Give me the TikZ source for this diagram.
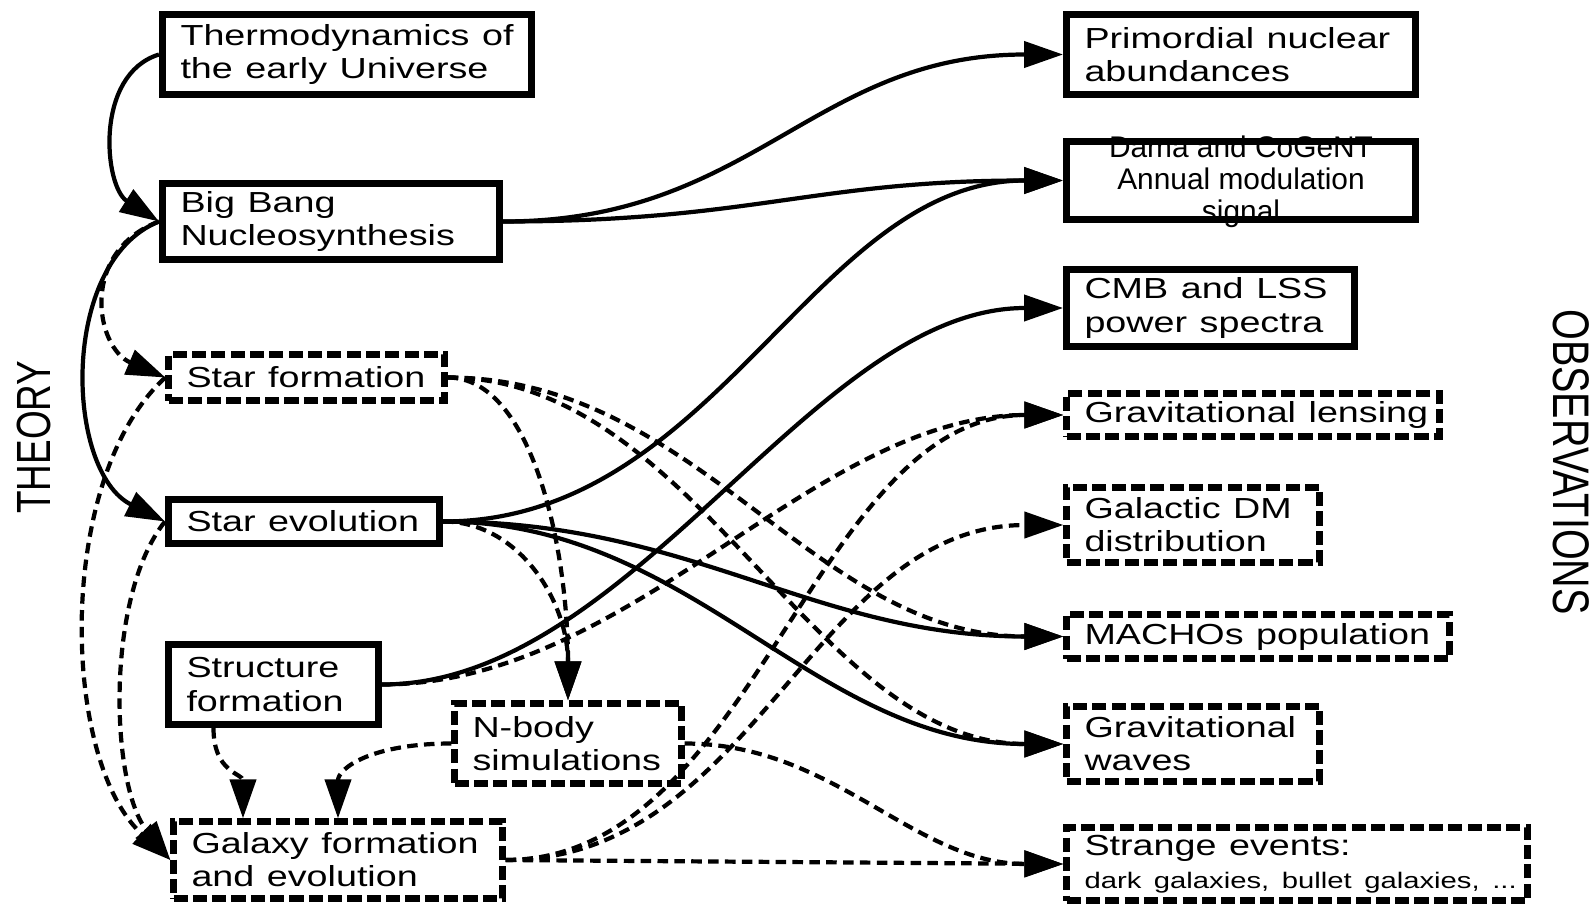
\documentclass[tikz,border=0pt]{standalone}
\usepackage{fontspec}
\setmainfont{Liberation Sans}
\usepackage{graphicx}
\usetikzlibrary{arrows.meta}

\newcommand{\stretchtxt}[1]{\scalebox{1.3}[1]{#1}}

\begin{document}
\begin{tikzpicture}
  \tikzset{
  solid_box/.style={draw, line width=4pt, inner xsep=0.36cm, inner ysep=0.1cm,
    align=left, font=\fontsize{16.5}{18.8}\selectfont},
  dashed_box/.style={solid_box, line width=3.6pt, dash pattern=on 8pt off 3pt},
  solid_link/.style={line width=2.4pt, -{Triangle[length=0.78cm,width=0.52cm]}},
  dashed_link/.style={solid_link, dash pattern=on 6pt off 3.6pt},
}

  % frame
  \useasboundingbox (0,0) rectangle (31.88,-18.1);

  % theory side
  \node[solid_box, text width=6.66cm, minimum height=1.6cm] (thermo) at (6.94,-1.09)
    {\stretchtxt{Thermodynamics of}\\\stretchtxt{the early Universe}};
  \node[solid_box, text width=6.02cm, minimum height=1.52cm] (bbn) at (6.62,-4.43)
    {\stretchtxt{Big Bang}\\\stretchtxt{Nucleosynthesis}};
  \node[dashed_box, text width=4.8cm, minimum height=0.92cm] (star_form) at (6.13,-7.55)
    {\stretchtxt{Star formation}};
  \node[solid_box, text width=4.7cm, minimum height=0.88cm] (star_evo) at (6.08,-10.43)
    {\stretchtxt{Star evolution}};
  \node[solid_box, text width=3.48cm, minimum height=1.6cm] (structure) at (5.47,-13.69)
    {\stretchtxt{Structure}\\\stretchtxt{formation}};
  \node[dashed_box, text width=3.82cm, minimum height=1.6cm] (nbody) at (11.36,-14.87)
    {\stretchtxt{N-body}\\\stretchtxt{simulations}};
  \node[dashed_box, text width=5.86cm, minimum height=1.54cm] (galaxy) at (6.76,-17.2)
    {\stretchtxt{Galaxy formation}\\\stretchtxt{and evolution}};

  % observation side
  \node[solid_box, text width=6.26cm, minimum height=1.6cm] (primordial) at (24.82,-1.09)
    {\stretchtxt{Primordial nuclear}\\\stretchtxt{abundances}};
  \node[font=\fontsize{17}{18.3}\selectfont, align=center] (dama_text) at (24.82,-3.63)
    {Dama and CoGeNT\\Annual modulation\\signal};
  \node[solid_box, minimum width=6.98cm, minimum height=1.56cm] (dama) at (24.82,-3.61) {};
  \node[solid_box, text width=5.04cm, minimum height=1.54cm] (cmb) at (24.21,-6.16)
    {\stretchtxt{CMB and LSS}\\\stretchtxt{power spectra}};
  \node[dashed_box, text width=6.74cm, minimum height=0.86cm] (lensing) at (25.06,-8.3)
    {\stretchtxt{Gravitational lensing}};
  \node[dashed_box, text width=4.34cm, minimum height=1.5cm] (galactic_dm) at (23.86,-10.5)
    {\stretchtxt{Galactic DM}\\\stretchtxt{distribution}};
  \node[dashed_box, text width=6.94cm, minimum height=0.88cm] (machos) at (25.16,-12.73)
    {\stretchtxt{MACHOs population}};
  \node[dashed_box, text width=4.34cm, minimum height=1.5cm] (grav_waves) at (23.86,-14.88)
    {\stretchtxt{Gravitational}\\\stretchtxt{waves}};
  \node[dashed_box, text width=8.5cm, minimum height=1.46cm] (strange) at (25.94,-17.28)
    {\stretchtxt{Strange events:}\\\stretchtxt{\fontsize{12.8}{14}\selectfont dark galaxies, bullet galaxies, ...}};

  % side titles
  \node[font=\fontsize{21}{24}\selectfont] (theory) at (0.68,-8.74)
    {\scalebox{1.3}[1]{\rotatebox{90}{THEORY}}};
  \node[font=\fontsize{22.5}{26}\selectfont] (observations) at (31.42,-9.24)
    {\scalebox{1.3}[1]{\rotatebox{-90}{OBSERVATIONS}}};

  % links on the left
  \draw[solid_link] (thermo.west) .. controls +(-1.3,-0.4) and +(-1.1,0.7) .. (bbn.west);
  \draw[dashed_link] (bbn.west) .. controls +(-1.6,-0.6) and +(-1.4,0.6) .. (star_form.west);
  \draw[solid_link] (bbn.west) .. controls +(-2,-0.8) and +(-2,1) .. (star_evo.west);
  \draw[dashed_link] (star_form.west) .. controls +(-2.2,-2) and +(-2.2,2) .. (galaxy.west);
  \draw[dashed_link] (star_evo.west) .. controls +(-1.2,-1.5) and +(-1.2,1.5) .. (galaxy.west);
  \draw[dashed_link] ([xshift=-1.2cm]structure.south) .. controls +(0,-0.9) and +(0,0.9)
    .. ([xshift=-1.9cm]galaxy.north);
  \draw[dashed_link] (nbody.west) .. controls +(-1.6,0) and +(0,1) .. (galaxy.north);
  \draw[dashed_link] (star_form.east) .. controls +(1.7,0) and +(0,3) .. (nbody.north);
  \draw[dashed_link] (star_evo.east) .. controls +(1.5,0) and +(0,2) .. (nbody.north);

  % links to the observations
  \draw[solid_link] (bbn.east) .. controls +(5,0) and +(-5,0) .. (primordial.west);
  \draw[solid_link] (bbn.east) .. controls +(5,0) and +(-5,0) .. (dama.west);
  \draw[solid_link] (star_evo.east) .. controls +(5.5,0) and +(-5,0) .. (dama.west);
  \draw[solid_link] (structure.east) .. controls +(5,0) and +(-5,0) .. (cmb.west);
  \draw[dashed_link] (structure.east) .. controls +(5,0) and +(-5,0) .. (lensing.west);
  \draw[solid_link] (star_evo.east) .. controls +(5,0) and +(-5,0) .. (machos.west);
  \draw[solid_link] (star_evo.east) .. controls +(5,0) and +(-5,0) .. (grav_waves.west);
  \draw[dashed_link] (star_form.east) .. controls +(5,0) and +(-5,0) .. (machos.west);
  \draw[dashed_link] (star_form.east) .. controls +(5,0) and +(-5,0) .. (grav_waves.west);
  \draw[dashed_link] (galaxy.east) .. controls +(5,0) and +(-5,0) .. (lensing.west);
  \draw[dashed_link] (galaxy.east) .. controls +(5,0) and +(-5,0) .. (galactic_dm.west);
  \draw[dashed_link] (nbody.east) .. controls +(3,0) and +(-3,0) .. (strange.west);
  \draw[dashed_link] (galaxy.east) -- (strange.west);
\end{tikzpicture}
\end{document}
